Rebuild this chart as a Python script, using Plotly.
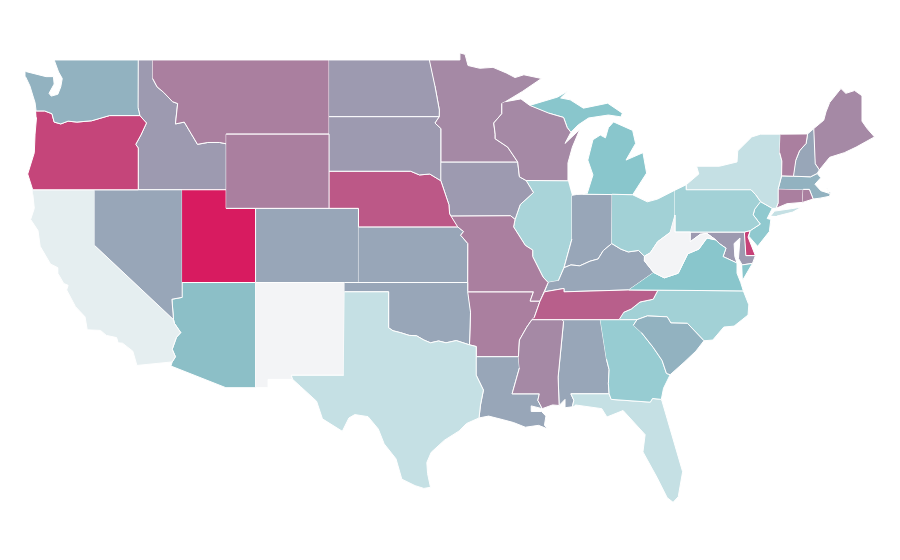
import plotly.graph_objects as go
from plotly.colors import sample_colorscale

# state outlines as (lon, lat), None starts another part of the same state
WA = [(-124.7,48.38),(-123.3,48.1),(-122.8,48.1),(-122.75,47.7),(-123.1,47.2),(-122.95,47.05),(-122.5,47.15),(-122.3,47.55),(-122.2,48),(-122.45,48.35),(-122.75,49),(-117.03,49),(-117.04,46.42),(-116.92,46),(-118.98,46),(-119.3,45.93),(-120.2,45.72),(-121.2,45.65),(-121.8,45.7),(-122.3,45.55),(-122.75,45.65),(-122.9,46.1),(-123.4,46.25),(-123.98,46.25),(-124.05,46.7),(-124.15,46.95),(-124.4,47.6),(-124.7,48.1)]
OR = [(-123.98,46.25),(-123.4,46.25),(-122.9,46.1),(-122.75,45.65),(-122.3,45.55),(-121.8,45.7),(-121.2,45.65),(-120.2,45.72),(-119.3,45.93),(-118.98,46),(-116.92,46),(-116.47,45.6),(-116.85,44.95),(-117.2,44.45),(-117.03,44.25),(-117.03,42),(-124.21,42),(-124.55,42.85),(-124.1,44),(-124.05,45),(-123.95,45.9)]
CA = [(-124.21,42),(-120,42),(-120,39),(-114.63,35),(-114.57,34.8),(-114.14,34.3),(-114.43,34.05),(-114.72,33.4),(-114.5,33),(-114.72,32.72),(-117.12,32.53),(-117.25,32.85),(-117.4,33.3),(-118.1,33.73),(-118.4,33.75),(-118.5,34.03),(-119.2,34.15),(-119.6,34.42),(-120.5,34.45),(-120.65,35.15),(-121.3,35.7),(-121.9,36.6),(-121.8,36.85),(-122.1,36.95),(-122.5,37.5),(-122.5,37.8),(-123,38),(-123.7,38.95),(-123.85,39.8),(-124.35,40.4),(-124.1,41),(-124.2,41.75)]
NV = [(-120,42),(-114.04,42),(-114.04,36.2),(-114.74,36.1),(-114.63,35),(-120,39)]
ID = [(-117.03,49),(-116.05,49),(-116.05,48),(-115.75,47.55),(-115.3,47.25),(-114.7,46.75),(-114.35,46.65),(-114.5,45.55),(-113.9,45.65),(-113.45,45.05),(-113,44.45),(-112.3,44.55),(-111.5,44.55),(-111.05,44.48),(-111.05,42),(-117.03,42),(-117.03,44.25),(-117.2,44.45),(-116.85,44.95),(-116.47,45.6),(-116.92,46),(-117.04,46.42)]
MT = [(-116.05,49),(-104.05,49),(-104.05,45),(-111.05,45),(-111.05,44.48),(-111.5,44.55),(-112.3,44.55),(-113,44.45),(-113.45,45.05),(-113.9,45.65),(-114.5,45.55),(-114.35,46.65),(-114.7,46.75),(-115.3,47.25),(-115.75,47.55),(-116.05,48)]
WY = [(-111.05,45),(-104.05,45),(-104.05,41),(-111.05,41)]
UT = [(-114.05,42),(-111.05,42),(-111.05,41),(-109.05,41),(-109.05,37),(-114.05,37)]
CO = [(-109.05,41),(-102.05,41),(-102.05,37),(-109.05,37)]
NM = [(-109.05,37),(-103,37),(-103.05,32),(-106.62,32),(-106.53,31.78),(-108.2,31.78),(-108.2,31.33),(-109.05,31.33)]
AZ = [(-114.05,37),(-109.05,37),(-109.05,31.33),(-111.07,31.33),(-114.81,32.5),(-114.72,32.72),(-114.5,33),(-114.72,33.4),(-114.43,34.05),(-114.14,34.3),(-114.57,34.8),(-114.63,35),(-114.74,36.1),(-114.04,36.2)]
TX = [(-103,36.5),(-100,36.5),(-100,34.56),(-99.7,34.4),(-99.2,34.3),(-98.6,34.15),(-98.1,34.13),(-97.6,33.9),(-97.15,33.75),(-96.6,33.85),(-96.1,33.75),(-95.4,33.87),(-94.5,33.64),(-94.04,33.55),(-94.04,33),(-94.04,32),(-93.55,31.2),(-93.75,30.4),(-93.85,29.7),(-94.7,29.4),(-95.2,29),(-96.2,28.5),(-97.1,27.85),(-97.4,27.3),(-97.35,26.7),(-97.15,25.96),(-97.6,25.9),(-98.2,26.05),(-99.1,26.4),(-99.5,27.5),(-100.3,28.3),(-100.7,29.1),(-101.4,29.77),(-102.3,29.88),(-102.7,29.7),(-103.15,28.98),(-104.5,29.65),(-104.9,30.6),(-106,31.4),(-106.53,31.78),(-106.62,32),(-103.05,32)]
OK = [(-103,37),(-94.62,37),(-94.62,36.5),(-94.43,35.4),(-94.5,33.64),(-95.4,33.87),(-96.1,33.75),(-96.6,33.85),(-97.15,33.75),(-97.6,33.9),(-98.1,34.13),(-98.6,34.15),(-99.2,34.3),(-99.7,34.4),(-100,34.56),(-100,36.5),(-103,36.5)]
KS = [(-102.05,40),(-95.3,40),(-94.9,39.75),(-95.1,39.55),(-94.61,39.1),(-94.62,37),(-102.05,37)]
NE = [(-104.05,43),(-98.5,43),(-97.9,42.8),(-97.2,42.85),(-96.45,42.49),(-96.1,41.7),(-95.9,41.2),(-95.85,40.7),(-95.3,40),(-102.05,40),(-102.05,41),(-104.05,41)]
SD = [(-104.05,45.94),(-96.56,45.94),(-96.85,45.6),(-96.45,45.3),(-96.45,43.5),(-96.45,42.49),(-97.2,42.85),(-97.9,42.8),(-98.5,43),(-104.05,43)]
ND = [(-104.05,49),(-97.23,49),(-96.85,47.6),(-96.55,46.3),(-96.56,45.94),(-104.05,45.94)]
MN = [(-97.23,49),(-95.15,49),(-95.15,49.38),(-94.8,49.3),(-94.6,48.7),(-93.8,48.55),(-92.9,48.6),(-92,48.3),(-91.4,48.05),(-90.8,48.2),(-89.6,48),(-90.9,47.3),(-92.05,46.75),(-92.3,46.65),(-92.3,46.1),(-92.85,45.6),(-92.75,45),(-92.75,44.75),(-91.9,44.3),(-91.22,43.5),(-96.45,43.5),(-96.45,45.3),(-96.85,45.6),(-96.56,45.94),(-96.55,46.3),(-96.85,47.6)]
IA = [(-96.45,43.5),(-91.22,43.5),(-91.1,42.7),(-90.65,42.5),(-90.15,41.85),(-91.05,41.2),(-91.4,40.4),(-91.7,40.6),(-95.77,40.58),(-95.85,40.7),(-95.9,41.2),(-96.1,41.7),(-96.45,42.49)]
MO = [(-95.77,40.58),(-91.7,40.6),(-91.4,40.4),(-91.5,40),(-90.7,39),(-90.2,38.75),(-90.2,38.4),(-89.5,37.3),(-89.15,37),(-89.4,36.5),(-89.7,36),(-90.37,36),(-90.15,36.5),(-94.62,36.5),(-94.62,37),(-94.61,39.1),(-95.1,39.55),(-94.9,39.75),(-95.3,40)]
AR = [(-94.62,36.5),(-90.15,36.5),(-90.37,36),(-89.7,36),(-90.1,35.1),(-90.25,35),(-90.6,34.6),(-91.1,33.9),(-91.17,33),(-94.04,33),(-94.04,33.55),(-94.5,33.64),(-94.43,35.4)]
LA = [(-94.04,33),(-91.17,33),(-91.1,32.4),(-91.6,31),(-89.75,31),(-89.85,30.65),(-89.55,30.2),(-90.3,30.35),(-90.3,30.05),(-89.6,30.05),(-89.3,29.8),(-89.4,29.3),(-89.15,29.1),(-89.8,29.3),(-90.7,29.2),(-91.5,29.45),(-92.2,29.6),(-93.2,29.8),(-93.85,29.7),(-93.75,30.4),(-93.55,31.2),(-94.04,32)]
MS = [(-91.17,33),(-91.1,33.9),(-90.6,34.6),(-90.25,35),(-88.2,35),(-88.1,34.9),(-88.47,31.9),(-88.4,30.37),(-88.85,30.4),(-89.55,30.2),(-89.85,30.65),(-89.75,31),(-91.6,31),(-91.1,32.4)]
AL = [(-88.2,35),(-85.6,35),(-85.18,32.87),(-85,32.3),(-85.05,31.55),(-85,31),(-87.6,31),(-87.4,30.65),(-87.5,30.3),(-88,30.25),(-88,30.7),(-88.4,30.37),(-88.47,31.9),(-88.1,34.9)]
GA = [(-85.6,35),(-83.1,35),(-83.35,34.7),(-82.8,34.3),(-82,33.5),(-81.4,32.8),(-81.1,32.1),(-80.85,32.03),(-81.3,31.3),(-81.45,30.7),(-82.05,30.75),(-82.2,30.55),(-84.86,30.7),(-85,31),(-85.05,31.55),(-85,32.3),(-85.18,32.87)]
FL = [(-87.5,30.3),(-87.4,30.65),(-87.6,31),(-85,31),(-84.86,30.7),(-82.2,30.55),(-82.05,30.75),(-81.45,30.7),(-81.4,30.6),(-80.85,29.15),(-80,26.8),(-80.3,25.45),(-80.65,25.15),(-81.05,25.4),(-81.75,26.5),(-82.7,27.87),(-82.55,28.8),(-84.05,30.1),(-85.15,29.75),(-85.5,30.2),(-87.3,30.4)]
SC = [(-83.35,34.7),(-83.1,35),(-82.4,35.2),(-81.05,35.15),(-80.8,34.82),(-79.67,34.8),(-78.55,33.86),(-79.1,33.3),(-79.9,32.7),(-80.85,32.03),(-81.1,32.1),(-81.4,32.8),(-82,33.5),(-82.8,34.3)]
NC = [(-84.32,35),(-83.1,35),(-82.4,35.2),(-81.05,35.15),(-80.8,34.82),(-79.67,34.8),(-78.55,33.86),(-77.95,33.9),(-77.2,34.6),(-76.5,34.65),(-75.55,35.25),(-75.5,35.8),(-75.87,36.55),(-81.68,36.59),(-82,36.1),(-82.9,35.95),(-83.5,35.57),(-84,35.4)]
TN = [(-90.25,35),(-88.2,35),(-85.6,35),(-84.32,35),(-84,35.4),(-83.5,35.57),(-82.9,35.95),(-82,36.1),(-81.68,36.59),(-83.67,36.6),(-88.07,36.5),(-88.07,36.68),(-89.4,36.5),(-89.7,36),(-90.1,35.1)]
KY = [(-89.15,37),(-89.4,36.5),(-88.07,36.68),(-88.07,36.5),(-83.67,36.6),(-81.97,37.54),(-82.6,38.17),(-82.6,38.42),(-83,38.73),(-83.7,38.65),(-84.2,38.8),(-84.82,39.1),(-85.4,38.72),(-85.75,38.27),(-86.3,38.15),(-87,37.9),(-87.6,37.95),(-88.07,37.8),(-88.45,37.1)]
IL = [(-87.8,42.49),(-90.65,42.5),(-90.15,41.85),(-91.05,41.2),(-91.4,40.4),(-91.5,40),(-90.7,39),(-90.2,38.75),(-90.2,38.4),(-89.5,37.3),(-89.15,37),(-88.45,37.1),(-88.07,37.8),(-87.53,39.35),(-87.53,41.7)]
IN = [(-87.53,41.7),(-87.2,41.75),(-86.82,41.76),(-84.8,41.76),(-84.82,39.1),(-85.4,38.72),(-85.75,38.27),(-86.3,38.15),(-87,37.9),(-87.6,37.95),(-88.07,37.8),(-87.53,39.35)]
OH = [(-84.8,41.76),(-83.4,41.73),(-82.4,41.35),(-81.7,41.5),(-80.52,41.98),(-80.52,40.64),(-80.85,39.7),(-81.7,39.2),(-82.2,38.6),(-82.6,38.42),(-83,38.73),(-83.7,38.65),(-84.2,38.8),(-84.82,39.1)]
MI = [(-86.82,41.76),(-84.8,41.76),(-83.4,41.73),(-83.1,42.1),(-82.45,42.9),(-82.7,44),(-83.85,43.6),(-83.2,44.5),(-83.4,45.2),(-84.7,45.66),(-85.05,45.35),(-85.25,44.8),(-85.6,44.95),(-86.1,44.7),(-86.45,43.6),(-86.1,42.8),(-86.5,41.78),None,(-90.4,46.55),(-89.2,46.85),(-88.5,47),(-87.8,47.33),(-88.3,46.95),(-87.65,46.85),(-86.75,46.4),(-85.1,46.67),(-84.1,46.13),(-84.2,45.93),(-85.05,46.03),(-86.4,45.87),(-87.1,45.5),(-87.6,45.1),(-87.85,45.35),(-88.1,45.9),(-89.1,46.13)]
WI = [(-92.05,46.75),(-91,46.9),(-90.4,46.55),(-89.1,46.13),(-88.1,45.9),(-87.85,45.35),(-87.6,45.1),(-88,44.5),(-87,45.25),(-87.5,44.3),(-87.8,43.45),(-87.8,42.49),(-90.65,42.5),(-91.1,42.7),(-91.22,43.5),(-91.9,44.3),(-92.75,44.75),(-92.75,45),(-92.85,45.6),(-92.3,46.1),(-92.3,46.65)]
PA = [(-80.52,41.98),(-79.76,42.27),(-79.76,42),(-75.35,42),(-75.05,41.75),(-74.7,41.36),(-75.1,40.95),(-75.2,40.65),(-74.72,40.15),(-75.4,39.8),(-75.8,39.72),(-80.52,39.72),(-80.52,40.64)]
NY = [(-79.76,42),(-79.76,42.27),(-78.9,42.85),(-79.05,43.27),(-77.5,43.27),(-76.3,43.5),(-76.25,44.1),(-75.3,44.85),(-74.7,45),(-73.35,45),(-73.4,44),(-73.25,43.55),(-73.27,42.75),(-73.5,42.05),(-73.5,41.3),(-73.65,41),(-73.9,41),(-74.7,41.36),(-75.05,41.75),(-75.35,42),None,(-74,40.6),(-73.75,40.85),(-72.6,40.98),(-71.9,41.07),(-72.5,40.8),(-73.6,40.58)]
NJ = [(-74.7,41.36),(-73.9,41),(-74.25,40.45),(-74,40.4),(-74.1,39.75),(-74.9,38.95),(-75.5,39.5),(-75.4,39.8),(-74.72,40.15),(-75.2,40.65),(-75.1,40.95)]
DE = [(-75.8,39.72),(-75.4,39.8),(-75.55,39.45),(-75.05,38.45),(-75.7,38.45)]
MD = [(-79.48,39.72),(-75.8,39.72),(-75.7,38.45),(-75.05,38.45),(-75.25,38.03),(-75.95,37.95),(-76.2,38.3),(-76.1,39.4),(-76.5,39.1),(-76.45,38.4),(-76.3,38.05),(-77,38.3),(-77.25,38.4),(-77.05,38.85),(-77.5,39.1),(-77.75,39.3),(-78.35,39.65),(-78.8,39.6),(-79.48,39.2)]
VA = [(-83.67,36.6),(-81.68,36.59),(-75.87,36.55),(-76.05,37),(-76.3,37.5),(-76.3,38.05),(-77,38.3),(-77.25,38.4),(-77.05,38.85),(-77.5,39.1),(-77.75,39.3),(-78.35,39.4),(-78.9,38.8),(-79.65,38.55),(-80.3,37.5),(-81.25,37.25),(-81.97,37.54),None,(-75.95,37.95),(-75.25,38.03),(-75.9,37.15)]
WV = [(-80.52,40.64),(-80.52,39.72),(-79.48,39.72),(-79.48,39.2),(-78.8,39.6),(-78.35,39.65),(-77.75,39.3),(-78.35,39.4),(-78.9,38.8),(-79.65,38.55),(-80.3,37.5),(-81.25,37.25),(-81.97,37.54),(-82.6,38.17),(-82.6,38.42),(-82.2,38.6),(-81.7,39.2),(-80.85,39.7)]
CT = [(-73.5,42.05),(-71.8,42.02),(-71.85,41.32),(-72.9,41.25),(-73.65,41),(-73.5,41.3)]
RI = [(-71.8,42.02),(-71.38,42.02),(-71.12,41.5),(-71.85,41.32)]
MA = [(-73.5,42.05),(-73.27,42.75),(-72.46,42.73),(-71.3,42.7),(-70.85,42.88),(-70.6,42.65),(-71,42.3),(-70.6,41.95),(-70,41.8),(-70.2,42.08),(-69.95,41.85),(-70,41.65),(-70.65,41.55),(-71.12,41.5),(-71.38,42.02),(-71.8,42.02)]
NH = [(-72.46,42.73),(-71.3,42.7),(-70.85,42.88),(-70.7,43.07),(-70.98,43.4),(-71.08,45.3),(-71.5,45.01),(-71.6,44.5),(-72.05,44.1),(-72.3,43.6)]
VT = [(-73.35,45),(-71.5,45.01),(-71.6,44.5),(-72.05,44.1),(-72.3,43.6),(-72.46,42.73),(-73.27,42.75),(-73.25,43.55),(-73.4,44)]
ME = [(-71.08,45.3),(-70.4,45.75),(-70.25,46.2),(-70,46.7),(-69.23,47.46),(-68.9,47.2),(-68.3,47.35),(-67.8,47.07),(-67.8,45.7),(-67.45,45.3),(-66.95,44.85),(-68.2,44.3),(-69,44),(-70,43.75),(-70.7,43.07),(-70.98,43.4)]

outlines = dict(AL=AL, AZ=AZ, AR=AR, CA=CA, CO=CO, CT=CT, DE=DE, FL=FL, GA=GA, ID=ID, IL=IL, IN=IN, IA=IA, KS=KS,
                KY=KY, LA=LA, ME=ME, MD=MD, MA=MA, MI=MI, MN=MN, MS=MS, MO=MO, MT=MT, NE=NE, NV=NV, NH=NH, NJ=NJ,
                NM=NM, NY=NY, NC=NC, ND=ND, OH=OH, OK=OK, OR=OR, PA=PA, RI=RI, SC=SC, SD=SD, TN=TN, TX=TX, UT=UT,
                VT=VT, VA=VA, WA=WA, WV=WV, WI=WI, WY=WY)

states = list(outlines)
rates = [43,33,59,4,43,59,85,13,26,48,21,43,48,43,43,43,55,48,38,30,55,55,59,59,75,43,43,28,0,13,23,48,23,43,83,23,59,38,48,72,13,100,59,30,38,0,55,59]

colors = [[0, '#f3f4f6'], [0.3, '#89c6cc'], [1, '#d81b60']]


def lonlat(points):
    lons, lats = [], []
    for p in points:
        lons.append(None if p is None else p[0])
        lats.append(None if p is None else p[1])
    return lons, lats


fig = go.Figure()
for state, rate in zip(states, rates):
    lons, lats = lonlat(outlines[state])
    fig.add_trace(go.Scatter(x=lons, y=lats, name=state, mode='lines', fill='toself',
                             fillcolor=sample_colorscale(colors, rate / 100)[0],
                             line=dict(color='white', width=1), hoverinfo='name'))

# the page has an 8px body margin, so the ranges are shifted to land where the reference does
fig.update_xaxes(range=[-125.89, -64.67], visible=False)
fig.update_yaxes(range=[21.61, 51.80], visible=False)
fig.update_layout(width=900, height=560, margin=dict(l=0, r=0, t=0, b=0), showlegend=False,
                  paper_bgcolor='white', plot_bgcolor='white')

fig.write_html("out.html")
